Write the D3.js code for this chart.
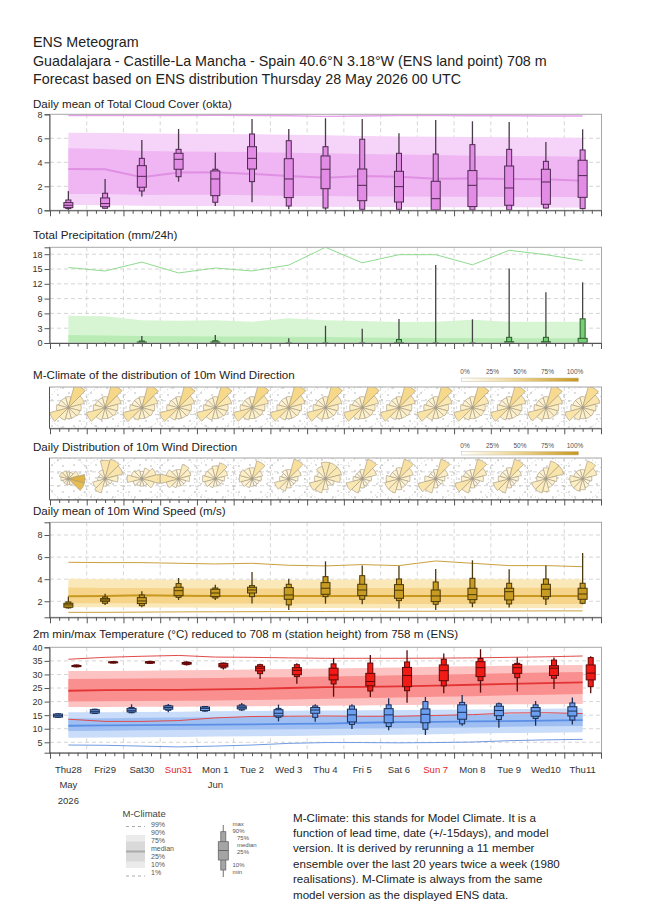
<!DOCTYPE html>
<html><head><meta charset="utf-8">
<script src="https://cdn.jsdelivr.net/npm/d3@7"></script>
<style>
body{margin:0;background:#fff}
svg{display:block}
text{font-family:"Liberation Sans",Arial,Helvetica,sans-serif}
</style>
</head><body>
<svg id="chart" width="650" height="916"></svg>
<script>
// ---------------- DATA ----------------
const dayLabels = ["Thu28","Fri29","Sat30","Sun31","Mon 1","Tue 2","Wed 3","Thu 4","Fri 5","Sat 6","Sun 7","Mon 8","Tue 9","Wed10","Thu11"];
const sundays = [3,10];
const monthLabels = [[0,"May"],[4,"Jun"]];
const yearLabels = [[0,"2026"]];
const headerLines = ["ENS Meteogram",
  "Guadalajara - Castille-La Mancha - Spain 40.6°N 3.18°W (ENS land point) 708 m",
  "Forecast based on ENS distribution Thursday 28 May 2026 00 UTC"];
const panelTitles = ["Daily mean of Total Cloud Cover (okta)","Total Precipitation (mm/24h)",
  "M-Climate of the distribution of 10m Wind Direction","Daily Distribution of 10m Wind Direction",
  "Daily mean of 10m Wind Speed (m/s)",
  "2m min/max Temperature (°C) reduced to 708 m (station height) from 758 m (ENS)"];

// boxes: [min, p10, p25, median, p75, p90, max]
const cloudBox = [
 [0.03,0.14,0.22,0.42,0.64,0.86,1.6],[0.14,0.17,0.3,0.56,1.03,1.42,2.6],[1.14,1.61,1.92,2.83,3.72,4.33,5.86],
 [2.39,2.8,3.42,4.25,4.75,5.08,6.78],[0.36,0.67,1.22,2.61,3.28,3.42,4.8],[0.67,2.39,3.44,4.33,5.3,6.36,7.6],
 [0.08,0.36,1.06,2.61,4.3,5.8,6.78],[0.03,0.19,1.8,3.42,4.53,5.3,7.67],[0.03,0.08,0.8,2.08,3.44,5.92,7.6],
 [0,0.08,0.69,1.97,3.25,4.75,6.42],[0,0,0.03,0.97,2.42,4.69,7.53],[0,0.03,0.31,2.08,3.31,5.47,7.42],
 [0,0.03,0.42,1.86,3.69,5.08,7.36],[0.14,0.19,0.5,2.36,3.42,4.08,5.69],[0.06,0.14,1.08,2.89,4.17,5.03,6.75]];
const cloudClim10 = [0.45,0.42,0.38,0.36,0.35,0.33,0.3,0.3,0.28,0.27,0.25,0.25,0.25,0.24,0.24];
const cloudClim25 = [1.35,1.35,1.28,1.3,1.3,1.25,1.2,1.2,1.15,1.15,1.12,1.12,1.1,1.1,1.1];
const cloudClim50 = [3.44,3.42,2.75,3.15,3.17,3.03,2.85,2.72,2.85,2.8,2.62,2.64,2.6,2.58,2.47];
const cloudClim75 = [5.17,5.1,4.95,4.9,4.88,4.85,4.8,4.75,4.7,4.65,4.6,4.55,4.52,4.5,4.47];
const cloudClim90 = [6.47,6.45,6.4,6.38,6.35,6.33,6.3,6.25,6.2,6.15,6.12,6.1,6.08,6.06,6.05];
const cloudClim99 = [7.9,7.9,7.9,7.9,7.92,7.9,7.88,7.82,7.86,7.9,7.9,7.88,7.88,7.86,7.86];

const precBox = [
 [0,0,0,0,0,0,0],[0,0,0,0,0,0,0.15],[0,0,0,0.05,0.2,0.4,1.4],[0,0,0,0,0,0,0.1],
 [0,0,0,0.05,0.2,0.45,1.6],[0,0,0,0,0,0,0.1],[0,0,0,0,0,0.05,0.95],[0,0,0,0,0,0.05,3.5],
 [0,0,0,0,0,0.05,2.9],[0,0,0,0,0.1,0.7,4.85],[0,0,0,0,0,0.05,15.8],[0,0,0,0,0,0.05,4.8],
 [0,0,0,0,0.25,1.15,15.1],[0,0,0,0,0.25,1.15,10.3],[0,0,0,0.1,0.95,4.9,12.3]];
const precClim75 = [1.6,1.5,1.4,1.35,1.3,1.3,1.25,1.2,1.1,1.05,1.0,1.0,0.95,0.95,0.95];
const precClim90 = [5.5,5.4,4.6,4.5,4.6,4.3,5.0,4.6,4.45,4.25,4.3,4.7,4.3,4.3,4.3];
const precClim99 = [15.3,14.6,16.4,14.2,15.2,14.6,15.8,19.4,16.25,17.9,17.9,15.85,18.8,17.9,16.7];

// wind rose frequencies (%) for sectors centred on 0,30,...,330 degrees
const mclimRose = [
 [5.3,25,12,7.2,6.2,5.3,5.3,7.2,16.3,6.2,4.5,4.5],[5.3,25,12,7.2,6.2,5.3,5.3,7.2,16.3,6.2,4.5,4.5],
 [5.3,24,12,7.2,6.2,5.3,5.3,7.2,16.8,6.2,4.5,4.5],[5.3,24,12,7.2,6.2,5.3,5.3,7.2,16.8,6.2,4.5,4.5],
 [5.3,24,12.5,7.2,6.2,5.3,5.3,7.2,16.3,6.2,4.5,4.5],[5.3,25,12.5,7.2,5.8,5.3,5.3,7.2,16.3,6.2,4.5,4.5],
 [5.3,25,12.5,7.2,5.8,5.3,5.3,7.2,16.3,6.2,4.5,4.5],[5.3,25,12.5,7.2,5.8,5.3,5.3,6.8,16.3,6.8,4.5,4.5],
 [5.3,25,12.5,7.2,5.8,5.3,5.3,6.8,16.3,6.8,4.5,4.5],[5.3,24,12.5,7.2,6.2,5.3,5.3,6.8,16.3,6.8,4.5,4.5],
 [5.3,24,12.5,7.2,6.2,5.3,5.3,7.2,16.3,6.2,4.5,4.5],[5.3,24,12.5,7.2,6.2,5.3,5.3,7.2,16.3,6.2,4.5,4.5],
 [5.3,23,13,7.2,6.2,5.3,5.3,7.2,16.3,6.2,4.5,4.5],[5.3,23,13,7.2,6.2,5.8,5.3,7.2,15.5,6.2,4.5,4.5],
 [5.3,22,14,7.8,6.2,5.8,5.3,7.2,15,6.2,4.5,4.5]];
const dailyRose = [
 [2,2,5,12,12,2,1.5,1.5,1.5,2.5,3.7,3],
 [14.8,17.9,14.8,7.2,2.4,1.8,2.4,9.5,7.2,2.4,1.8,3.7],
 [2.4,5.3,9.5,14.8,7.2,2.4,2.4,2.4,3.7,9.5,5.3,3.7],
 [3.7,9.5,7.2,5.3,2.4,2.4,2.4,3.7,7.2,14.8,7.2,3.7],
 [7.2,12,7.2,3.7,2.4,2.4,2.4,3.7,5.3,7.2,5.3,5.3],
 [5.3,14.8,5.3,3.7,2.4,2.4,2.4,3.7,5.3,7.2,7.2,5.3],
 [3.7,17.9,7.2,3.7,2.4,2.4,3.7,7.2,9.5,3.7,2.4,3.7],
 [12,12,12,9.5,3.7,2.4,5.3,9.5,12,5.3,3.7,7.2],
 [3.7,17.9,9.5,3.7,2.4,2.4,3.7,9.5,12,3.7,2.4,2.4],
 [5.3,17.9,9.5,5.3,3.7,3.7,5.3,9.5,9.5,7.2,3.7,3.7],
 [3.7,17.9,7.2,3.7,2.4,2.4,3.7,9.5,14.8,5.3,2.4,2.4],
 [3.7,17.9,9.5,5.3,2.4,2.4,3.7,9.5,14.8,5.3,3.7,3.7],
 [5.3,17.9,7.2,3.7,2.4,2.4,3.7,9.5,12,5.3,3.7,3.7],
 [5.3,14.8,14.8,5.3,3.7,3.7,7.2,9.5,9.5,3.7,3.7,3.7],
 [3.7,14.8,9.5,3.7,2.4,3.7,5.3,7.2,7.2,7.2,3.7,3.7]];
// share of members (%) per sector, used for the colour of the daily roses
const dailyShare = [
 [4,4,8,45,40,4,3,3,3,5,8,6],
 [14,17,14,7,2,2,2,9,7,2,2,4],
 [2,5,9,15,7,2,2,2,4,9,5,4],
 [4,9,7,5,2,2,2,4,7,15,7,4],
 [7,14,7,4,2,2,2,4,5,7,5,5],
 [5,16,5,4,2,2,2,4,5,7,7,5],
 [4,19,7,4,2,2,4,7,9,4,2,4],
 [12,12,12,9,4,2,5,9,12,5,4,7],
 [4,18,9,4,2,2,4,9,12,4,2,2],
 [5,18,9,5,4,4,5,9,9,7,4,4],
 [4,18,7,4,2,2,4,9,15,5,2,2],
 [4,18,9,5,2,2,4,9,15,5,4,4],
 [5,18,7,4,2,2,4,9,12,5,4,4],
 [5,15,15,5,4,4,7,9,9,4,4,4],
 [4,15,9,4,2,4,5,7,7,7,4,4]];
const roseLegendTicks = ["0%","25%","50%","75%","100%"];

const windBox = [
 [1.34,1.4,1.46,1.67,1.82,1.94,2.42],[1.67,1.82,2.0,2.12,2.24,2.39,2.69],[1.46,1.6,1.79,2.03,2.33,2.57,2.9],
 [2.12,2.36,2.51,2.96,3.27,3.6,4.11],[2.12,2.3,2.42,2.75,3.09,3.2,3.5],[1.79,2.42,2.75,3.02,3.27,3.42,4.65],
 [1.22,1.67,2.18,2.57,3.24,3.54,4.05],[1.79,2.42,2.63,3.18,3.69,4.23,5.62],[1.73,2.18,2.51,3.02,3.54,4.32,5.23],
 [1.34,2.06,2.27,3.0,3.51,4.02,5.2],[1.22,1.73,1.97,2.48,3.02,3.75,4.92],[1.46,1.85,2.15,2.6,3.18,4.08,5.71],
 [1.43,1.76,2.12,2.87,3.18,3.63,4.89],[1.67,2.21,2.42,3.09,3.54,4.02,5.23],[1.73,1.82,2.18,2.66,3.18,3.63,6.37]];
const windClim1  = [1.0,1.0,1.02,1.04,1.05,1.06,1.07,1.08,1.1,1.1,1.1,1.12,1.12,1.13,1.13];
const windClim10 = [1.46,1.45,1.44,1.43,1.42,1.42,1.4,1.4,1.38,1.38,1.37,1.37,1.37,1.37,1.37];
const windClim25 = [1.82,1.82,1.82,1.8,1.8,1.8,1.78,1.78,1.77,1.76,1.76,1.76,1.76,1.76,1.76];
const windClim50 = [2.45,2.47,2.54,2.5,2.48,2.48,2.47,2.47,2.48,2.48,2.48,2.48,2.48,2.48,2.48];
const windClim75 = [3.24,3.2,3.2,3.18,3.18,3.16,3.16,3.17,3.2,3.2,3.22,3.22,3.22,3.22,3.22];
const windClim90 = [4.05,4.0,3.98,3.95,3.95,3.93,3.93,3.95,3.97,3.98,4.0,4.0,4.0,4.0,4.0];
const windClim99 = [5.53,5.5,5.5,5.44,5.38,5.44,5.26,5.2,5.32,5.23,5.65,5.44,5.23,5.23,5.13];

const tminBox = [
 [14.0,14.2,14.3,14.8,15.4,15.5,15.8],[15.4,15.6,15.8,16.4,17.0,17.2,17.4],[15.7,15.9,16.2,16.8,17.5,17.8,19.0],
 [16.05,16.8,17.2,17.8,18.4,18.6,19.1],[16.3,16.5,16.7,17.5,18.0,18.2,18.4],[16.5,16.9,17.3,17.9,18.4,18.8,19.5],
 [12.7,14.2,14.7,15.7,17.0,17.5,18.9],[12.6,14.2,15.7,16.9,17.8,18.4,19.0],[9.9,11.6,12.5,15.1,17.2,18.4,19.0],
 [9.4,10.8,12.2,15.1,17.4,18.8,21.2],[7.7,9.8,12.2,15.3,17.3,20.0,21.7],[11.1,11.8,13.5,16.05,18.8,19.7,22.4],
 [10.4,13.4,14.8,16.7,18.3,19.2,19.7],[11.1,13.8,14.6,16.5,17.8,18.8,20.2],[11.6,13.2,14.7,16.5,18.1,19.5,21.5]];
const tmaxBox = [
 [32.6,32.8,32.9,33.1,33.3,33.5,33.6],[34.1,34.2,34.3,34.5,34.6,34.7,34.8],[33.9,34.1,34.2,34.5,34.7,34.8,35.0],
 [33.3,33.6,33.8,34.1,34.4,34.6,34.8],[31.8,32.4,32.8,33.4,34.0,34.2,34.35],[28.3,30.3,31.3,32.3,33.0,33.6,33.9],
 [26.6,29.2,29.9,31.5,32.5,33.6,34.1],[21.8,26.5,28.0,29.8,32.3,33.9,36.0],[21.7,23.9,25.8,27.4,30.4,34.2,37.2],
 [19.6,24.0,25.5,29.6,32.6,34.6,38.9],[23.1,25.8,27.7,31.4,33.5,35.6,37.7],[23.3,27.7,29.2,32.5,34.7,35.9,39.3],
 [23.7,28.8,30.4,32.5,33.7,34.1,36.2],[24.6,28.6,29.6,32.3,33.2,35.3,36.2],[23.1,25.5,28.0,30.5,33.5,36.2,36.7]];
const tmaxClim1  = [13.5,12.7,12.7,13.0,14.0,14.5,14.6,14.7,14.6,14.6,14.9,15.2,15.8,15.9,15.6];
const tmaxClim10 = [18.0,18.0,18.1,18.1,18.2,18.3,18.4,18.5,18.6,18.7,18.8,18.9,19.0,19.0,19.1];
const tmaxClim25 = [20.0,20.1,20.2,20.3,20.4,20.6,20.8,21.0,21.2,21.5,21.8,22.0,22.3,22.5,22.8];
const tmaxClim50 = [24.0,24.2,24.3,24.3,24.5,24.7,25.0,25.3,25.4,25.6,25.9,26.2,26.5,26.8,27.1];
const tmaxClim75 = [28.3,28.4,28.5,28.6,28.7,28.9,29.0,29.2,29.4,29.7,29.9,30.2,30.4,30.7,30.9];
const tmaxClim90 = [31.3,31.3,31.4,31.5,31.6,31.8,32.0,32.2,32.4,32.6,32.8,33.0,33.2,33.4,33.5];
const tmaxClim99 = [35.6,36.3,36.7,37.0,36.4,36.3,36.1,35.95,35.95,35.95,36.0,36.1,36.3,36.5,36.8];
const tminClim1  = [4.0,3.9,3.6,3.3,3.6,4.0,4.6,4.9,4.9,4.8,4.9,5.1,5.6,5.9,6.1];
const tminClim10 = [6.7,6.8,6.9,7.0,7.1,7.2,7.3,7.5,7.7,7.8,8.0,8.2,8.4,8.5,8.7];
const tminClim25 = [9.2,9.3,9.4,9.5,9.6,9.7,9.8,9.9,10.1,10.2,10.4,10.5,10.7,10.9,11.0];
const tminClim50 = [11.1,11.2,11.3,11.4,11.5,11.6,11.8,11.9,12.2,12.4,12.5,12.7,12.8,13.0,13.2];
const tminClim75 = [13.8,13.9,14.0,14.1,14.2,14.3,14.4,14.5,14.7,14.8,15.0,15.2,15.3,15.5,15.7];
const tminClim90 = [16.05,16.1,16.2,16.3,16.4,16.5,16.6,16.7,16.8,16.9,17.0,17.1,17.2,17.4,17.5];

const climLegendLabels = ["99%","90%","75%","median","25%","10%","1%"];
const boxLegendLabels = ["max","90%","75%","median","25%","10%","min"];
const noteLines = ["M-Climate: this stands for Model Climate. It is a",
  "function of lead time, date (+/-15days), and model",
  "version. It is derived by rerunning a 11 member",
  "ensemble over the last 20 years twice a week (1980",
  "realisations). M-Climate is always from the same",
  "model version as the displayed ENS data."];

// ---------------- DRAWING ----------------
const svg = d3.select("#chart");
const defs = svg.append("defs");
const X0 = 50, X1 = 601;
const x = d3.scaleLinear().domain([0, 15]).range([X0, X1]);
const nDays = dayLabels.length;
const noon = d3.range(nDays).map(i => x(i + 0.5));

svg.selectAll("text.hdr").data(headerLines).join("text")
  .attr("x", 33).attr("y", (d, i) => 47 + i * 18.5)
  .attr("font-size", 14.3).attr("fill", "#222").text(d => d);

const titleY = [108, 239, 379, 451, 515, 638];
svg.selectAll("text.ptitle").data(panelTitles).join("text")
  .attr("x", 33).attr("y", (d, i) => titleY[i])
  .attr("font-size", 11.6).attr("fill", "#222").text(d => d);

let clipN = 0;
function makePanel(top, bottom, domain, ticks, hgrid) {
  const y = domain ? d3.scaleLinear().domain(domain).range([bottom, top]) : null;
  const g = svg.append("g");
  const cid = "clip" + (clipN++);
  defs.append("clipPath").attr("id", cid).append("rect")
    .attr("x", X0).attr("y", top).attr("width", X1 - X0).attr("height", bottom - top);
  const bg = g.append("g");
  const grid = g.append("g");
  grid.selectAll("line.v").data(d3.range(1, 15)).join("line")
    .attr("x1", d => x(d)).attr("x2", d => x(d)).attr("y1", top).attr("y2", bottom)
    .attr("stroke", "#cccccc").attr("stroke-width", 0.8).attr("stroke-dasharray", "4,3");
  const hg = hgrid || [];
  grid.selectAll("line.h").data(hg).join("line")
    .attr("x1", X0).attr("x2", X1).attr("y1", d => y ? y(d) : d).attr("y2", d => y ? y(d) : d)
    .attr("stroke", "#cccccc").attr("stroke-width", 0.8).attr("stroke-dasharray", "4,3");
  const bands = g.append("g").attr("clip-path", `url(#${cid})`);
  const marks = g.append("g");
  const axes = g.append("g");
  axes.append("rect").attr("x", X0 - 0.5).attr("y", top).attr("width", X1 - X0 + 1).attr("height", bottom - top)
    .attr("fill", "none").attr("stroke", "#a8a8a8").attr("stroke-width", 1);
  if (y && ticks) {
    const la = axes.append("g").attr("transform", `translate(${X0 - 0.5},0)`)
      .call(d3.axisLeft(y).tickValues(ticks).tickSize(5).tickPadding(2).tickFormat(d3.format("d")));
    la.select(".domain").attr("stroke", "#555");
    la.selectAll(".tick line").attr("stroke", "#555");
    la.selectAll(".tick text").attr("font-size", 9).attr("fill", "#333")
      .attr("font-family", "'Liberation Sans',Arial,sans-serif");
  } else {
    axes.append("line").attr("x1", X0 - 0.5).attr("x2", X0 - 0.5).attr("y1", top).attr("y2", bottom)
      .attr("stroke", "#555");
  }
  const minor = d3.range(0, 15.001, 0.25).filter(v => Math.abs(v - Math.round(v)) > 0.01);
  const bm = axes.append("g").attr("transform", `translate(0,${bottom})`)
    .call(d3.axisBottom(x).tickValues(minor).tickSize(3.5).tickFormat(""));
  bm.select(".domain").remove();
  const bM = axes.append("g").attr("transform", `translate(0,${bottom})`)
    .call(d3.axisBottom(x).tickValues(d3.range(0, 16)).tickSize(6).tickFormat(""));
  bM.select(".domain").attr("stroke", "#555").attr("d", `M${X0 - 0.5},0.5H${X1 + 0.5}`);
  axes.selectAll(".tick line").attr("stroke", "#555");
  return { y, bg, bands, marks, top, bottom, cid };
}

function band(p, lo, hi, fill) {
  const a = d3.area().x((d, i) => noon[i]).y0((d, i) => p.y(lo[i])).y1((d, i) => p.y(hi[i]));
  p.bands.append("path").datum(lo).attr("d", a).attr("fill", fill);
}
function cline(p, vals, color, w) {
  const l = d3.line().x((d, i) => noon[i]).y(d => p.y(d));
  p.bands.append("path").datum(vals).attr("d", l).attr("fill", "none")
    .attr("stroke", color).attr("stroke-width", w);
}
function boxes(p, data, xs, fill, stroke, whisk) {
  data.forEach((v, i) => {
    const [mn, p10, p25, md, p75, p90, mx] = v;
    if (mx === mn) return;
    const cx = xs[i], y = p.y;
    p.marks.append("line").attr("x1", cx).attr("x2", cx).attr("y1", y(mn)).attr("y2", y(mx))
      .attr("stroke", whisk).attr("stroke-width", 1.3);
    if (p90 > p10 || p90 > 0) p.marks.append("rect").attr("x", cx - 2.5).attr("width", 5).attr("y", y(p90))
      .attr("height", Math.max(0, y(p10) - y(p90))).attr("fill", fill).attr("stroke", stroke).attr("stroke-width", 1);
    if (p75 > p25 || p75 > 0) p.marks.append("rect").attr("x", cx - 4.5).attr("width", 9).attr("y", y(p75))
      .attr("height", Math.max(0, y(p25) - y(p75))).attr("fill", fill).attr("stroke", stroke).attr("stroke-width", 1);
    if (p75 > 0) p.marks.append("line").attr("x1", cx - 4.5).attr("x2", cx + 4.5).attr("y1", y(md)).attr("y2", y(md))
      .attr("stroke", stroke).attr("stroke-width", 1);
  });
}

// ---- Cloud cover ----
const pc = makePanel(114.3, 210.3, [0, 8], [0, 2, 4, 6, 8], [2, 4, 6]);
band(pc, cloudClim10, cloudClim90, "#f6d3f8");
band(pc, cloudClim25, cloudClim75, "#efb6f3");
cline(pc, cloudClim50, "#df90e3", 2);
cline(pc, cloudClim99, "#e79fea", 1.3);
boxes(pc, cloudBox, noon, "#e28ce6", "#4e2850", "#4a3a4a");

// ---- Precipitation ----
const pp = makePanel(247.3, 343, [0, 19.4], [0, 3, 6, 9, 12, 15, 18], [3, 6, 9, 12, 15, 18]);
band(pp, precClim75.map(() => 0), precClim90, "#d7f5d3");
band(pp, precClim75.map(() => 0), precClim75, "#b9ecb5");
cline(pp, precClim99, "#8edb8e", 1);
boxes(pp, precBox, noon, "#74d074", "#2f5a2f", "#444");

// ---- Wind rose panels ----
const dp = defs.append("pattern").attr("id", "dots").attr("width", 22).attr("height", 13)
  .attr("patternUnits", "userSpaceOnUse");
[[3, 3], [14, 5], [8, 10], [19, 11]].forEach(([a, b]) =>
  dp.append("circle").attr("cx", a).attr("cy", b).attr("r", 0.75).attr("fill", "#a9a9a9"));
const gr = defs.append("linearGradient").attr("id", "wdgrad");
gr.append("stop").attr("offset", "0%").attr("stop-color", "#ffffff");
gr.append("stop").attr("offset", "50%").attr("stop-color", "#ecd28a");
gr.append("stop").attr("offset", "100%").attr("stop-color", "#c8961e");

const rScale = d3.scaleSqrt().domain([0, 25]).range([0, 24]).clamp(true);
const cScale = d3.scaleLinear().domain([0, 6, 25, 50]).range(["#fffdf7", "#fcefc8", "#f6d888", "#dcaa30"]).clamp(true);

function rosePanel(top, bottom, data, shade, legendY) {
  const h = bottom - top;
  const p = makePanel(top, bottom, null, null, [top + h / 3, top + 2 * h / 3]);
  p.bg.append("rect").attr("x", X0).attr("y", top).attr("width", X1 - X0).attr("height", h)
    .attr("fill", "url(#dots)");
  const cy = (top + bottom) / 2;
  const arc = d3.arc().innerRadius(0);
  data.forEach((freqs, i) => {
    const g = p.bands.append("g").attr("transform", `translate(${noon[i]},${cy})`);
    g.append("circle").attr("r", 21).attr("fill", "none").attr("stroke", "#b5b5b5")
      .attr("stroke-width", 0.9).attr("stroke-dasharray", "1,2.6");
    freqs.forEach((f, k) => {
      const a = k * 30 * Math.PI / 180, w = 15 * Math.PI / 180;
      const s = shade ? shade[i][k] : f;
      g.append("path").attr("d", arc({ outerRadius: rScale(f), startAngle: a - w, endAngle: a + w }))
        .attr("fill", cScale(s)).attr("stroke", "#a39679").attr("stroke-width", 0.6);
    });
    g.append("circle").attr("r", 1.3).attr("fill", "none").attr("stroke", "#999").attr("stroke-width", 0.6);
  });
  const lx = d3.scaleLinear().domain([0, 4]).range([465, 575]);
  svg.selectAll(null).data(roseLegendTicks).join("text")
    .attr("x", (d, i) => lx(i)).attr("y", legendY).attr("text-anchor", "middle")
    .attr("font-size", 6.5).attr("fill", "#555").text(d => d);
  svg.append("rect").attr("x", 461.5).attr("y", legendY + 4).attr("width", 117).attr("height", 3.5)
    .attr("fill", "url(#wdgrad)").attr("stroke", "#c8c0a8").attr("stroke-width", 0.5);
  return p;
}
rosePanel(387, 428.3, mclimRose, null, 374);
rosePanel(458, 499.5, dailyRose, dailyShare, 447.5);

// ---- Wind speed ----
const pw = makePanel(522.3, 617.3, [0.55, 9.15], [2, 4, 6, 8], [2, 4, 6, 8]);
band(pw, windClim10, windClim90, "#fbe8b8");
band(pw, windClim25, windClim75, "#f6d48a");
cline(pw, windClim50, "#c8991e", 2);
cline(pw, windClim99, "#c9a040", 1);
cline(pw, windClim1, "#c9a040", 1);
boxes(pw, windBox, noon, "#c89c22", "#4a3808", "#4a3a10");

// ---- Temperature ----
const pt = makePanel(647.3, 752.7, [1.17, 40], [5, 10, 15, 20, 25, 30, 35, 40], [5, 10, 15, 20, 25, 30, 35]);
band(pt, tminClim10, tminClim90, "#c9dcf9");
band(pt, tminClim25, tminClim75, "#9fbff3");
cline(pt, tminClim50, "#5b8fe6", 1.8);
cline(pt, tminClim1, "#6f9ae0", 1);
band(pt, tmaxClim10, tmaxClim90, "#fdc3c3");
band(pt, tmaxClim25, tmaxClim75, "#f98f8f");
cline(pt, tmaxClim50, "#e53434", 1.8);
cline(pt, tmaxClim99, "#e04a4a", 1);
cline(pt, tmaxClim1, "#e04a4a", 1);
boxes(pt, tminBox, d3.range(nDays).map(i => x(i + 0.22)), "#6c9ff0", "#1c2f55", "#1c2f55");
boxes(pt, tmaxBox, d3.range(nDays).map(i => x(i + 0.72)), "#f21a14", "#5a0a0a", "#5a0a0a");

svg.selectAll("text.xl").data(dayLabels).join("text")
  .attr("x", (d, i) => noon[i]).attr("y", 772.5).attr("text-anchor", "middle")
  .attr("font-size", 9.5).attr("fill", (d, i) => sundays.includes(i) ? "#e8251c" : "#333").text(d => d);
svg.selectAll("text.ml").data(monthLabels).join("text")
  .attr("x", d => noon[d[0]]).attr("y", 788).attr("text-anchor", "middle")
  .attr("font-size", 9.5).attr("fill", "#333").text(d => d[1]);
svg.selectAll("text.yl").data(yearLabels).join("text")
  .attr("x", d => noon[d[0]]).attr("y", 803.5).attr("text-anchor", "middle")
  .attr("font-size", 9.5).attr("fill", "#333").text(d => d[1]);

// ---- Legends ----
const lg = svg.append("g");
lg.append("text").attr("x", 122.5).attr("y", 816.5).attr("font-size", 9.5).attr("fill", "#444").text("M-Climate");
lg.append("line").attr("x1", 126).attr("x2", 145).attr("y1", 826.5).attr("y2", 826.5)
  .attr("stroke", "#aaa").attr("stroke-dasharray", "3,3");
lg.append("line").attr("x1", 126).attr("x2", 145).attr("y1", 876).attr("y2", 876)
  .attr("stroke", "#aaa").attr("stroke-dasharray", "3,3");
lg.append("rect").attr("x", 126).attr("y", 835).attr("width", 19).attr("height", 33).attr("fill", "#ebebeb");
lg.append("rect").attr("x", 126).attr("y", 841.5).attr("width", 19).attr("height", 20).attr("fill", "#d9d9d9");
lg.append("line").attr("x1", 126).attr("x2", 145).attr("y1", 851.5).attr("y2", 851.5)
  .attr("stroke", "#aaaaaa").attr("stroke-width", 2);
lg.selectAll("text.cl").data(climLegendLabels).join("text")
  .attr("x", 151).attr("y", (d, i) => 826.5 + i * 8).attr("font-size", 7).attr("fill", "#555").text(d => d);

const bx = 223.3;
lg.append("line").attr("x1", bx).attr("x2", bx).attr("y1", 825).attr("y2", 877).attr("stroke", "#888").attr("stroke-width", 1.2);
lg.append("rect").attr("x", bx - 2.5).attr("y", 831.7).attr("width", 5).attr("height", 38.3)
  .attr("fill", "#a5a5a5").attr("stroke", "#666").attr("stroke-width", 0.8);
lg.append("rect").attr("x", bx - 5).attr("y", 841.7).attr("width", 10).attr("height", 18.3)
  .attr("fill", "#a5a5a5").attr("stroke", "#666").attr("stroke-width", 0.8);
lg.append("line").attr("x1", bx - 5).attr("x2", bx + 5).attr("y1", 850.5).attr("y2", 850.5).attr("stroke", "#666");
const blPos = [[232.5, 825.5], [232.5, 832.5], [237, 839.5], [237, 846.5], [237, 853.5], [232.5, 866.5], [232.5, 873.5]];
lg.selectAll("text.bl").data(boxLegendLabels).join("text")
  .attr("x", (d, i) => blPos[i][0]).attr("y", (d, i) => blPos[i][1])
  .attr("font-size", 6).attr("fill", "#555").text(d => d);

lg.selectAll("text.note").data(noteLines).join("text")
  .attr("x", 293).attr("y", (d, i) => 821.5 + i * 15.4).attr("font-size", 11.6).attr("fill", "#222").text(d => d);
</script>
</body></html>
